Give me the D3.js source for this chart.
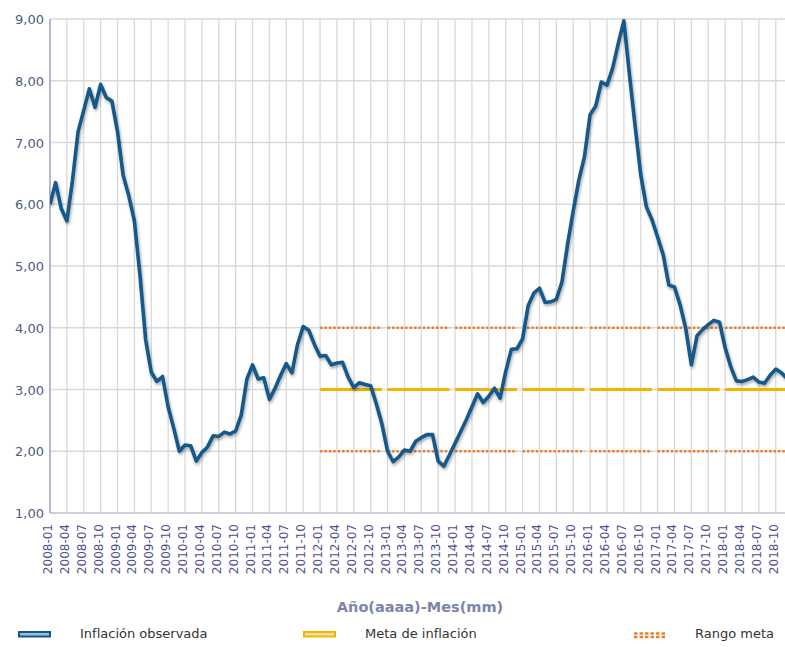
<!DOCTYPE html>
<html lang="es">
<head>
    <meta charset="utf-8">
    <title>Inflación observada y meta</title>
    <script src="https://d3js.org/d3.v7.min.js"></script>
    <style>
        body {
            margin: 0;
            background: #fff;
            font-family: "DejaVu Sans", Verdana, sans-serif;
        }
        .grid line {
            stroke: #d9d9d9;
            stroke-width: 1.3;
        }
        .ylab {
            fill: #4f5b82;
            font-size: 13px;
        }
        .xlab {
            fill: #4f4f8f;
            font-size: 12px;
        }
        .legend text {
            fill: #333;
            font-size: 13px;
        }
    </style>
</head>
<body>
    <svg id="chart" width="785" height="647"></svg>

    <script>
        // inflación anual observada, mensual 2008-01 .. 2018-12
        const years = [2008, 2009, 2010, 2011, 2012, 2013, 2014, 2015, 2016, 2017, 2018];
        const inflation = [
            6.00, 6.35, 5.93, 5.73, 6.39, 7.18, 7.52, 7.87, 7.57, 7.94, 7.73, 7.67,
            7.18, 6.47, 6.14, 5.73, 4.85, 3.81, 3.28, 3.13, 3.21, 2.72, 2.37, 2.00,
            2.10, 2.09, 1.84, 1.98, 2.07, 2.25, 2.24, 2.31, 2.28, 2.33, 2.59, 3.17,
            3.40, 3.17, 3.19, 2.84, 3.02, 3.23, 3.42, 3.27, 3.73, 4.02, 3.96, 3.73,
            3.54, 3.55, 3.40, 3.43, 3.44, 3.20, 3.03, 3.11, 3.08, 3.06, 2.77, 2.44,
            2.00, 1.83, 1.91, 2.02, 2.00, 2.16, 2.22, 2.27, 2.27, 1.84, 1.76, 1.94,
            2.13, 2.32, 2.51, 2.72, 2.93, 2.79, 2.89, 3.02, 2.86, 3.29, 3.65, 3.66,
            3.82, 4.36, 4.56, 4.64, 4.41, 4.42, 4.46, 4.74, 5.35, 5.89, 6.39, 6.77,
            7.45, 7.59, 7.98, 7.93, 8.20, 8.60, 8.97, 8.10, 7.27, 6.48, 5.96, 5.75,
            5.47, 5.18, 4.69, 4.66, 4.37, 3.99, 3.40, 3.87, 3.97, 4.05, 4.12, 4.09,
            3.68, 3.37, 3.14, 3.13, 3.16, 3.20, 3.12, 3.10, 3.23, 3.33, 3.27, 3.18
        ];

        // meta y rango meta por año
        const targetYears = [2012, 2013, 2014, 2015, 2016, 2017, 2018];
        const targetValue = [3, 3, 3, 3, 3, 3, 3];
        const rangeLow = [2, 2, 2, 2, 2, 2, 2];
        const rangeHigh = [4, 4, 4, 4, 4, 4, 4];

        const yTicks = [1, 2, 3, 4, 5, 6, 7, 8, 9];
        const legendLabels = ["Inflación observada", "Meta de inflación", "Rango meta"];

        const months = [];
        years.forEach(y => d3.range(1, 13).forEach(m => months.push(y + "-" + String(m).padStart(2, "0"))));
        const series = inflation.map((v, i) => ({ i: i, v: v }));
        const tickIdx = d3.range(0, 130, 3);

        const svg = d3.select("#chart");
        const mLeft = 50, mTop = 19, mBottom = 513;

        const x = d3.scaleLinear().domain([0, 131]).range([mLeft, 787]);
        const y = d3.scaleLinear().domain([1, 9]).range([mBottom, mTop]);
        const fmt = v => d3.format(".2f")(v).replace(".", ",");

        const defs = svg.append("defs");
        const shadow = defs.append("filter").attr("id", "shadow")
            .attr("x", "-5%").attr("y", "-5%").attr("width", "110%").attr("height", "115%");
        shadow.append("feGaussianBlur").attr("in", "SourceAlpha").attr("stdDeviation", 1.5);
        shadow.append("feOffset").attr("dx", 1).attr("dy", 2).attr("result", "b");
        shadow.append("feComponentTransfer").append("feFuncA").attr("type", "linear").attr("slope", 0.35);
        const merge = shadow.append("feMerge");
        merge.append("feMergeNode");
        merge.append("feMergeNode").attr("in", "SourceGraphic");

        defs.append("clipPath").attr("id", "clip")
            .append("rect").attr("x", mLeft).attr("y", 0).attr("width", 785 - mLeft).attr("height", mBottom + 5);

        // grid
        const grid = svg.append("g").attr("class", "grid");
        grid.selectAll(".h").data(yTicks).join("line")
            .attr("x1", mLeft).attr("x2", 785)
            .attr("y1", d => y(d)).attr("y2", d => y(d));
        grid.selectAll(".v").data(tickIdx).join("line")
            .attr("x1", d => x(d)).attr("x2", d => x(d))
            .attr("y1", mTop).attr("y2", mBottom);

        // axis lines
        svg.append("line").attr("x1", mLeft).attr("x2", mLeft).attr("y1", mTop).attr("y2", mBottom)
            .attr("stroke", "#9a9fc0").attr("stroke-width", 1.3);
        svg.append("line").attr("x1", mLeft).attr("x2", 785).attr("y1", mBottom).attr("y2", mBottom)
            .attr("stroke", "#c8c8d0").attr("stroke-width", 1.3);

        // y labels
        svg.selectAll(".ylab").data(yTicks).join("text")
            .attr("class", "ylab")
            .attr("x", mLeft - 6).attr("y", d => y(d) + 5)
            .attr("text-anchor", "end")
            .text(fmt);

        // x labels
        svg.selectAll(".xlab").data(tickIdx).join("text")
            .attr("class", "xlab")
            .attr("transform", d => `translate(${x(d) + 2},${mBottom + 11}) rotate(-90)`)
            .attr("text-anchor", "end")
            .text(d => months[d]);

        svg.append("text")
            .attr("x", 420).attr("y", 612)
            .attr("text-anchor", "middle")
            .attr("font-weight", "bold").attr("font-size", "14.5px")
            .attr("fill", "#7d84aa")
            .text("Año(aaaa)-Mes(mm)");

        const plot = svg.append("g").attr("clip-path", "url(#clip)");

        // rango meta y meta, segmentos por año
        const seg = (yr, v) => {
            const s = (yr - years[0]) * 12;
            return [[x(s), y(v)], [x(s + 11), y(v)]];
        };
        const segLine = d3.line();
        [rangeLow, rangeHigh].forEach(arr => {
            plot.append("g").selectAll("path").data(targetYears).join("path")
                .attr("d", (yr, i) => segLine(seg(yr, arr[i])))
                .attr("stroke", "#ee7d2a").attr("stroke-width", 2.5)
                .attr("stroke-dasharray", "2.5,1.9").attr("fill", "none");
        });
        plot.append("g").selectAll("path").data(targetYears).join("path")
            .attr("d", (yr, i) => segLine(seg(yr, targetValue[i])))
            .attr("stroke", "#f2b400").attr("stroke-width", 3).attr("fill", "none");

        // inflación observada
        const line = d3.line().x(d => x(d.i)).y(d => y(d.v));
        plot.append("path").datum(series)
            .attr("d", line)
            .attr("fill", "none")
            .attr("stroke", "#14598a")
            .attr("stroke-width", 3.6)
            .attr("stroke-linejoin", "round")
            .attr("filter", "url(#shadow)");

        // legend
        const legend = svg.append("g").attr("class", "legend");
        const lx = [18, 303, 634];
        const tx = [80, 365, 695];
        legend.append("rect").attr("x", lx[0] + 1).attr("y", 632).attr("width", 31).attr("height", 4.5)
            .attr("fill", "#9cc0da").attr("stroke", "#14598a").attr("stroke-width", 2);
        legend.append("rect").attr("x", lx[1] + 1).attr("y", 632).attr("width", 31).attr("height", 4.5)
            .attr("fill", "#f7e4a0").attr("stroke", "#f2b400").attr("stroke-width", 2);
        [633.5, 637].forEach(yy => {
            legend.append("line").attr("x1", lx[2]).attr("x2", lx[2] + 33).attr("y1", yy).attr("y2", yy)
                .attr("stroke", "#ee7d2a").attr("stroke-width", 2.5).attr("stroke-dasharray", "3.5,2");
        });
        legend.selectAll("text").data(legendLabels).join("text")
            .attr("x", (d, i) => tx[i]).attr("y", 638)
            .text(d => d);
    </script>
</body>
</html>
